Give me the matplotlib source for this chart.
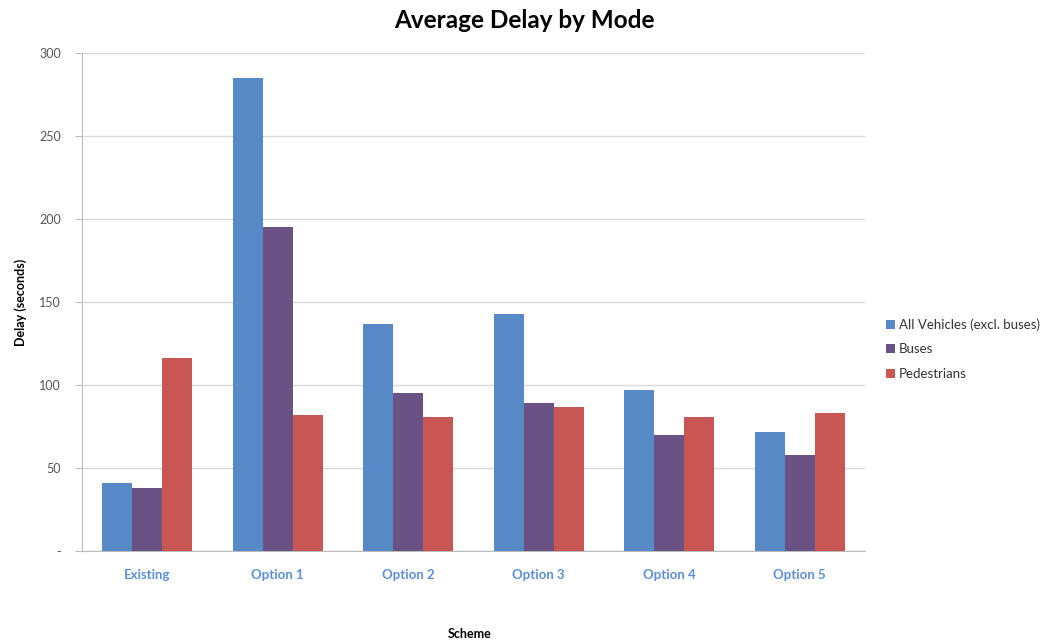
import matplotlib
matplotlib.use("Agg")
import matplotlib.pyplot as plt
import numpy as np

categories = ["Existing", "Option 1", "Option 2", "Option 3", "Option 4", "Option 5"]
series_names = ["All Vehicles (excl. buses)", "Buses", "Pedestrians"]
all_vehicles = [41, 285, 136.5, 142.5, 97, 71.5]
buses = [38, 195, 95, 89, 70, 58]
pedestrians = [116, 82, 80.5, 86.5, 81, 83]
yticks = [0, 50, 100, 150, 200, 250, 300]
ytick_labels = ["-", "50", "100", "150", "200", "250", "300"]

colors = ["#5689c5", "#6a5284", "#c85652"]
plt.rcParams['font.family'] = ['Lato', 'DejaVu Sans']

fig = plt.figure(figsize=(10.59, 6.44), dpi=100)
ax = fig.add_axes([82/1059, 1 - 551/644, 783/1059, 498/644])

x = np.arange(len(categories))
w = 0.23
for i, (vals, name, c) in enumerate(zip([all_vehicles, buses, pedestrians], series_names, colors)):
    ax.bar(x + (i - 1) * w, vals, width=w, color=c, label=name, zorder=3)

ax.set_xlim(-0.5, len(categories) - 0.5)
ax.set_ylim(0, 300)
ax.set_yticks(yticks)
ax.set_yticklabels(ytick_labels, fontsize=9, color="#555555")
ax.set_xticks(x)
ax.set_xticklabels(categories, fontsize=9.5, color="#5b8fd6", fontweight="bold")
ax.tick_params(axis="x", length=0, pad=13)
ax.tick_params(axis="y", length=5, color="#bbbbbb", pad=10)
ax.grid(axis="y", color="#d9d9d9", linewidth=1, zorder=0)
for s in ["top", "right"]:
    ax.spines[s].set_visible(False)
ax.spines["left"].set_color("#bbbbbb")
ax.spines["bottom"].set_color("#bbbbbb")

fig.text(21/1059, 1 - 302/644, "Delay (seconds)", fontsize=9, fontweight="bold", ha="center", va="center", rotation=90)
fig.text(470/1059, 1 - 634/644, "Scheme", fontsize=9, fontweight="bold", ha="center", va="center")
fig.text(524/1059, 1 - 21/644, "Average Delay by Mode", fontsize=17.5, fontweight="bold", ha="center", va="center")

leg = ax.legend(loc="center left", bbox_to_anchor=(874/1059, 1 - 349/644), bbox_transform=fig.transFigure,
                frameon=False, fontsize=9.5, handlelength=0.7, handleheight=0.7, handletextpad=0.3,
                labelspacing=0.95, labelcolor="#333333")

fig.savefig("out.png", dpi=100)
